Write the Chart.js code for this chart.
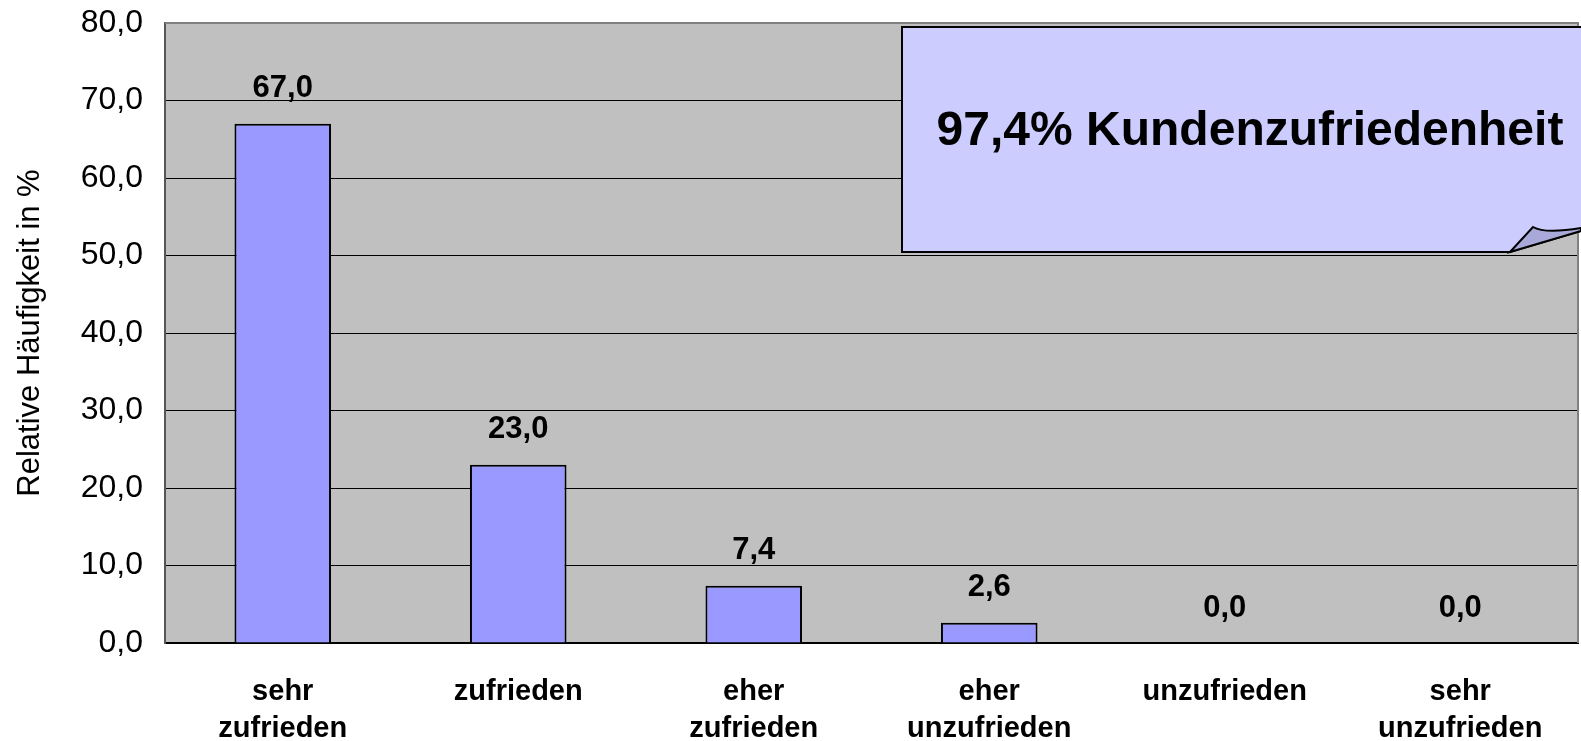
<!DOCTYPE html>
<html>
<head>
<meta charset="utf-8">
<script src="https://cdn.jsdelivr.net/npm/chart.js@4/dist/chart.umd.min.js"></script>
<style>
  body { margin: 0; background: #fff; }
  #wrap { width: 1581px; height: 741px; }
</style>
</head>
<body>
<div id="wrap"><canvas id="myChart" width="1581" height="741"></canvas></div>
<script>
// data
const categories = [['sehr', 'zufrieden'], 'zufrieden', ['eher', 'zufrieden'], ['eher', 'unzufrieden'], 'unzufrieden', ['sehr', 'unzufrieden']];
const values = [67.0, 23.0, 7.4, 2.6, 0.0, 0.0];
const yMin = 0, yMax = 80, yStep = 10;
const yTitle = 'Relative Häufigkeit in %';
const calloutText = '97,4% Kundenzufriedenheit';

const fmt = v => v.toFixed(1).replace('.', ',');

/* grey plot background + grey top/right frame */
const plotBg = {
  id: 'plotBg',
  beforeDraw(chart) {
    const {ctx, chartArea: a} = chart;
    ctx.save();
    ctx.fillStyle = '#C0C0C0';
    ctx.fillRect(a.left, a.top, a.right - a.left, a.bottom - a.top);
    ctx.restore();
  },
  afterDatasetsDraw(chart) {
    const {ctx, chartArea: a} = chart;
    ctx.save();
    ctx.strokeStyle = '#808080';
    ctx.lineWidth = 2;
    ctx.beginPath();
    ctx.moveTo(a.left, a.top);
    ctx.lineTo(a.right, a.top);
    ctx.lineTo(a.right, a.bottom);
    ctx.stroke();
    ctx.restore();
  }
};

/* value labels above the bars */
const valueLabels = {
  id: 'valueLabels',
  afterDatasetsDraw(chart) {
    const ctx = chart.ctx;
    const meta = chart.getDatasetMeta(0);
    ctx.save();
    ctx.font = 'bold 31px "Liberation Sans", Arial, sans-serif';
    ctx.fillStyle = '#000';
    ctx.textAlign = 'center';
    ctx.textBaseline = 'middle';
    meta.data.forEach(function (bar, i) {
      ctx.fillText(fmt(values[i]), bar.x, bar.y - 35);
    });
    ctx.restore();
  }
};

/* the callout box in the upper right */
const callout = {
  id: 'callout',
  afterDraw(chart) {
    const ctx = chart.ctx;
    const L = 902, T = 27, B = 252, R = 1590, foldX = 1510;
    ctx.save();
    ctx.fillStyle = '#CCCCFF';
    ctx.strokeStyle = '#000';
    ctx.lineWidth = 2;
    ctx.beginPath();
    ctx.moveTo(L, T);
    ctx.lineTo(R, T);
    ctx.lineTo(R, 229);
    ctx.lineTo(1581, 231);
    ctx.lineTo(foldX, B);
    ctx.lineTo(L, B);
    ctx.closePath();
    ctx.fill();
    ctx.stroke();
    // folded corner
    ctx.fillStyle = '#A9A9D9';
    ctx.beginPath();
    ctx.moveTo(foldX, B);
    ctx.lineTo(1533, 227);
    ctx.quadraticCurveTo(1545, 234, 1581, 228);
    ctx.lineTo(1581, 231);
    ctx.closePath();
    ctx.fill();
    ctx.stroke();
    ctx.fillStyle = '#000';
    ctx.font = 'bold 48px "Liberation Sans", Arial, sans-serif';
    ctx.textAlign = 'center';
    ctx.textBaseline = 'middle';
    ctx.fillText(calloutText, 1250, 132);
    ctx.restore();
  }
};

const myChart = new Chart(document.getElementById('myChart').getContext('2d'), {
  type: 'bar',
  data: {
    labels: categories,
    datasets: [{
      label: 'Relative Häufigkeit',
      data: values,
      backgroundColor: '#9999FF',
      borderColor: '#000',
      borderWidth: 2,
      categoryPercentage: 1,
      barPercentage: 0.41
    }]
  },
  options: {
    responsive: false,
    animation: false,
    layout: { padding: { top: 23, right: 3, left: 0, bottom: 0 } },
    plugins: {
      legend: { display: false },
      tooltip: { enabled: false }
    },
    scales: {
      x: {
        grid: { display: false },
        border: { display: true, color: '#000', width: 2 },
        ticks: {
          color: '#000',
          padding: 22,
          maxRotation: 0,
          autoSkip: false,
          font: { family: '"Liberation Sans", Arial, sans-serif', size: 29, weight: 'bold', lineHeight: 1.29 }
        },
        afterFit(scale) { scale.height = 98; }
      },
      y: {
        min: yMin,
        max: yMax,
        grid: {
          drawTicks: false,
          color: ctx => ctx.tick.value === yMax ? '#808080' : '#000',
          lineWidth: 1
        },
        border: { display: true, color: '#555', width: 2 },
        ticks: {
          stepSize: yStep,
          color: '#000',
          padding: 22,
          font: { family: '"Liberation Sans", Arial, sans-serif', size: 32 },
          callback: v => fmt(v)
        },
        title: {
          display: true,
          text: yTitle,
          color: '#000',
          padding: { top: 12, bottom: 0 },
          font: { family: '"Liberation Sans", Arial, sans-serif', size: 31 }
        },
        afterFit(scale) {
          scale.width = 165;
          scale.paddingTop = 0;
          scale.paddingBottom = 0;
        }
      }
    }
  },
  plugins: [plotBg, valueLabels, callout]
});
</script>
</body>
</html>
